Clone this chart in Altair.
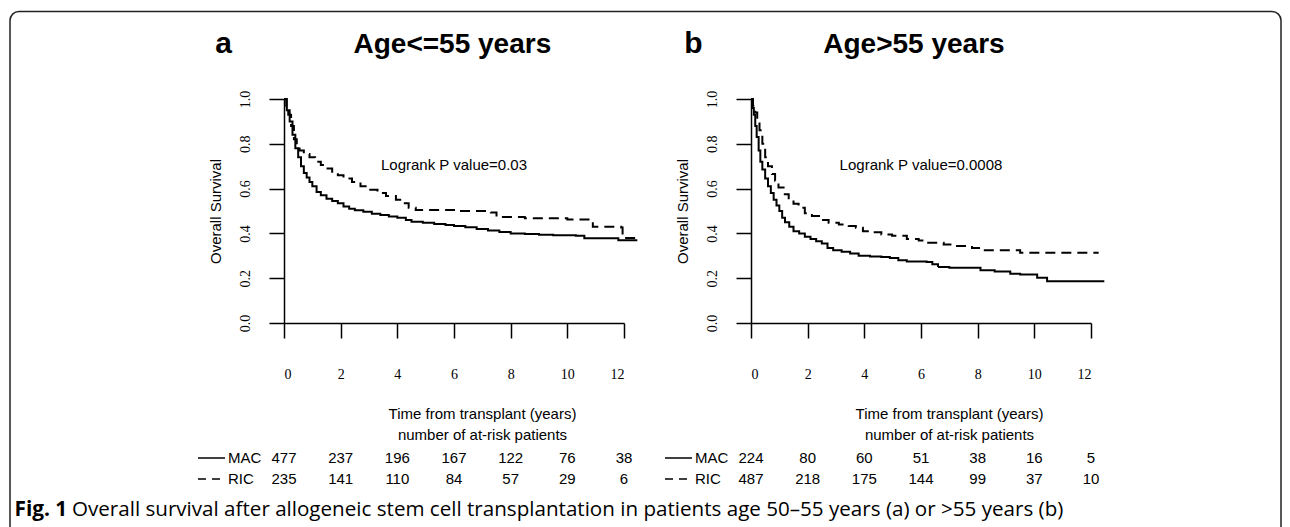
import altair as alt
import pandas as pd

SANS = "Liberation Sans"
SERIF = "Liberation Serif"

years = [0, 2, 4, 6, 8, 10, 12]
y_ticks = [0.0, 0.2, 0.4, 0.6, 0.8, 1.0]
arms = ["MAC", "RIC"]

# Panel a (Age<=55)
a_mac_t = [0, 0.1, 0.2, 0.3, 0.4, 0.5, 0.6, 0.7, 0.8, 0.9, 1.0, 1.15, 1.3, 1.5, 1.7, 1.9, 2.1, 2.3, 2.5,
           2.8, 3.1, 3.4, 3.7, 4.0, 4.3, 4.5, 4.9, 5.3, 5.7, 6.0, 6.4, 6.8, 7.2, 7.6, 8.0, 8.5, 9.0, 9.5,
           10.3, 10.6, 11.8, 12.47]
a_mac_s = [1.0, 0.95, 0.90, 0.84, 0.78, 0.74, 0.70, 0.67, 0.65, 0.63, 0.61, 0.585, 0.57, 0.555, 0.545, 0.535,
           0.52, 0.51, 0.503, 0.497, 0.488, 0.482, 0.476, 0.47, 0.46, 0.452, 0.447, 0.442, 0.437, 0.433, 0.428,
           0.42, 0.413, 0.406, 0.40, 0.397, 0.394, 0.392, 0.389, 0.378, 0.369, 0.369]
a_ric_t = [0, 0.08, 0.15, 0.25, 0.35, 0.45, 0.55, 0.7, 0.9, 1.1, 1.3, 1.5, 1.7, 1.9, 2.1, 2.4, 2.7, 3.0, 3.3,
           3.6, 3.95, 4.2, 4.4, 4.65, 6.0, 7.3, 7.5, 8.5, 10.0, 10.9, 11.05, 11.9, 11.95, 12.47]
a_ric_s = [1.0, 0.97, 0.93, 0.88, 0.82, 0.79, 0.77, 0.755, 0.74, 0.72, 0.705, 0.69, 0.675, 0.66, 0.645, 0.63,
           0.61, 0.595, 0.58, 0.567, 0.55, 0.535, 0.515, 0.505, 0.50, 0.493, 0.473, 0.468, 0.462, 0.43, 0.43,
           0.426, 0.38, 0.378]

# Panel b (Age>55)
b_mac_t = [0, 0.05, 0.1, 0.15, 0.2, 0.27, 0.33, 0.4, 0.5, 0.6, 0.7, 0.8, 0.9, 1.0, 1.1, 1.2, 1.35, 1.5, 1.7,
           1.9, 2.1, 2.3, 2.5, 2.7, 2.9, 3.2, 3.5, 3.8, 4.2, 4.6, 4.9, 5.2, 5.5, 6.2, 6.4, 6.6, 7.0, 8.1, 8.6,
           9.15, 9.5, 10.1, 10.45, 12.47]
b_mac_s = [1.0, 0.96, 0.93, 0.88, 0.83, 0.77, 0.72, 0.685, 0.645, 0.61, 0.58, 0.55, 0.525, 0.50, 0.47, 0.45,
           0.43, 0.41, 0.40, 0.385, 0.375, 0.365, 0.355, 0.335, 0.325, 0.318, 0.31, 0.30, 0.297, 0.295, 0.29,
           0.28, 0.275, 0.272, 0.262, 0.25, 0.247, 0.235, 0.23, 0.22, 0.217, 0.202, 0.186, 0.186]
b_ric_t = [0, 0.07, 0.15, 0.22, 0.3, 0.4, 0.5, 0.6, 0.74, 0.85, 0.97, 1.15, 1.33, 1.5, 1.68, 1.9, 2.15, 2.4,
           2.74, 3.1, 3.45, 3.7, 3.95, 4.27, 4.6, 4.98, 5.5, 5.92, 6.2, 6.8, 7.2, 7.8, 8.2, 9.5, 12.27]
b_ric_s = [1.0, 0.97, 0.94, 0.90, 0.86, 0.80, 0.74, 0.70, 0.665, 0.635, 0.605, 0.575, 0.552, 0.532, 0.515,
           0.49, 0.478, 0.46, 0.448, 0.44, 0.433, 0.425, 0.41, 0.405, 0.395, 0.39, 0.375, 0.368, 0.358, 0.35,
           0.344, 0.335, 0.325, 0.314, 0.314]

# Numbers at risk
a_risk_mac = [477, 237, 196, 167, 122, 76, 38]
a_risk_ric = [235, 141, 110, 84, 57, 29, 6]
b_risk_mac = [224, 80, 60, 51, 38, 16, 5]
b_risk_ric = [487, 218, 175, 144, 99, 37, 10]

x_title = ["Time from transplant (years)", "number of at-risk patients"]
caption_bold = "Fig. 1"
caption_rest = "Overall survival after allogeneic stem cell transplantation in patients age 50\u201355 years (a) or >55 years (b)"


def curve_df(mt, ms, rt, rs):
    return pd.DataFrame({"t": mt + rt, "s": ms + rs,
                         "arm": ["MAC"] * len(mt) + ["RIC"] * len(rt)})


def risk_df(m, r):
    return pd.DataFrame({"t": years * 2, "n": m + r, "arm": ["MAC"] * len(m) + ["RIC"] * len(r)})


def xscale():
    return alt.Scale(domain=[0, 12], nice=False, zero=False)


def rowscale():
    return alt.Scale(type="point", domain=arms, range=[359, 380], padding=0)


dash_scale = alt.Scale(domain=arms, range=[[1, 0], [10, 6]])


def panel(curves, risk, letter, letter_dx, title, title_dx, pval, first):
    x = alt.X("t:Q", scale=xscale(),
              axis=alt.Axis(values=years, format="d", title=x_title, titleX=198, titleY=83,
                            titleBaseline="top", titleAlign="center", titleLineHeight=21,
                            titleFontSize=15, titleFont=SANS, titleFontWeight="normal",
                            tickSize=15, labelPadding=29, labelFont=SERIF, labelFontSize=14))
    y = alt.Y("s:Q", scale=alt.Scale(domain=[0, 1], nice=False, zero=False),
              axis=alt.Axis(values=y_ticks, format=".1f", title="Overall Survival", titleX=-68.5,
                            titleY=112, titleAngle=270, titleBaseline="middle", titleAlign="center",
                            titleFontSize=15, titleFont=SANS, titleFontWeight="normal",
                            tickSize=15, labelAngle=270, labelAlign="center", labelBaseline="bottom",
                            labelPadding=17, labelFont=SERIF, labelFontSize=14))
    lines = alt.Chart(curves).mark_line(interpolate="step-after", color="black", strokeWidth=2).encode(
        x=x, y=y, strokeDash=alt.StrokeDash("arm:N", scale=dash_scale, legend=None), detail="arm:N")
    logrank = alt.Chart(pd.DataFrame({"label": [pval]})).mark_text(
        font=SANS, fontSize=15, color="black", align="center", baseline="middle").encode(
        x=alt.X(datum=6, scale=xscale()), y=alt.Y(datum=0.705), text="label:N")
    main = alt.layer(lines, logrank)

    nums = alt.Chart(risk).mark_text(font=SANS, fontSize=15, color="black", baseline="middle").encode(
        x=alt.X("t:Q", scale=xscale()), y=alt.Y("arm:N", scale=rowscale(), axis=None), text="n:Q")
    keydf = pd.DataFrame({"arm": arms})
    key_mac = alt.Chart(keydf).transform_filter(alt.datum.arm == "MAC").mark_rule(
        color="black", strokeWidth=1.5).encode(
        x=alt.value(-86), x2=alt.value(-59), y=alt.Y("arm:N", scale=rowscale(), axis=None))
    key_ric = alt.Chart(keydf).transform_filter(alt.datum.arm == "RIC").mark_rule(
        color="black", strokeWidth=1.5, strokeDash=[8, 6]).encode(
        x=alt.value(-86), x2=alt.value(-59), y=alt.Y("arm:N", scale=rowscale(), axis=None))
    keytxt = alt.Chart(keydf).mark_text(font=SANS, fontSize=15, color="black", align="left",
                                        baseline="middle").encode(
        x=alt.value(-56), y=alt.Y("arm:N", scale=rowscale(), axis=None), text="arm:N")
    table = alt.layer(nums, key_mac, key_ric, keytxt)

    one = pd.DataFrame({"k": [0]})
    letter_t = alt.Chart(one).mark_text(font=SANS, fontSize=30, fontWeight="bold", color="black",
                                        align="center", baseline="alphabetic", text=letter).encode(
        x=alt.value(letter_dx), y=alt.value(-46))
    title_t = alt.Chart(one).mark_text(font=SANS, fontSize=28, fontWeight="bold", color="black",
                                       align="left", baseline="alphabetic", text=title).encode(
        x=alt.value(title_dx), y=alt.value(-46))
    layers = [main, table, letter_t, title_t]
    if first:
        border = alt.Chart(one).mark_rect(fill="transparent", stroke="#222", strokeWidth=1.5,
                                          cornerRadius=9).encode(
            x=alt.value(-274), x2=alt.value(997), y=alt.value(-87.5), y2=alt.value(440))
        cap1 = alt.Chart(one).mark_text(font="Open Sans", fontSize=20.8, fontWeight="bold", color="black",
                                        align="left", baseline="alphabetic", text=caption_bold).encode(
            x=alt.value(-269.5), y=alt.value(417))
        cap2 = alt.Chart(one).mark_text(font="Open Sans", fontSize=20.6, color="black",
                                        align="left", baseline="alphabetic", text=caption_rest).encode(
            x=alt.value(-212), y=alt.value(417))
        layers += [border, cap1, cap2]
    return alt.layer(*layers).resolve_scale(y="independent").properties(width=340, height=224)


pa = panel(curve_df(a_mac_t, a_mac_s, a_ric_t, a_ric_s), risk_df(a_risk_mac, a_risk_ric),
           "a", -60.5, "Age<=55 years", 69.5, "Logrank P value=0.03", True)
pb = panel(curve_df(b_mac_t, b_mac_s, b_ric_t, b_ric_s), risk_df(b_risk_mac, b_risk_ric),
           "b", -57.7, "Age>55 years", 72.3, "Logrank P value=0.0008", False)

chart = alt.hconcat(pa, pb, spacing=127, bounds="flush").properties(
    padding={"left": 1, "top": 2, "right": 0, "bottom": 0}
).configure_view(stroke=None).configure_axis(
    grid=False, domainColor="black", tickColor="black", domainWidth=1.5, tickWidth=1.5,
    labelColor="black", titleColor="black"
)

chart.save("out.html", embed_options={"renderer": "svg", "actions": False})
